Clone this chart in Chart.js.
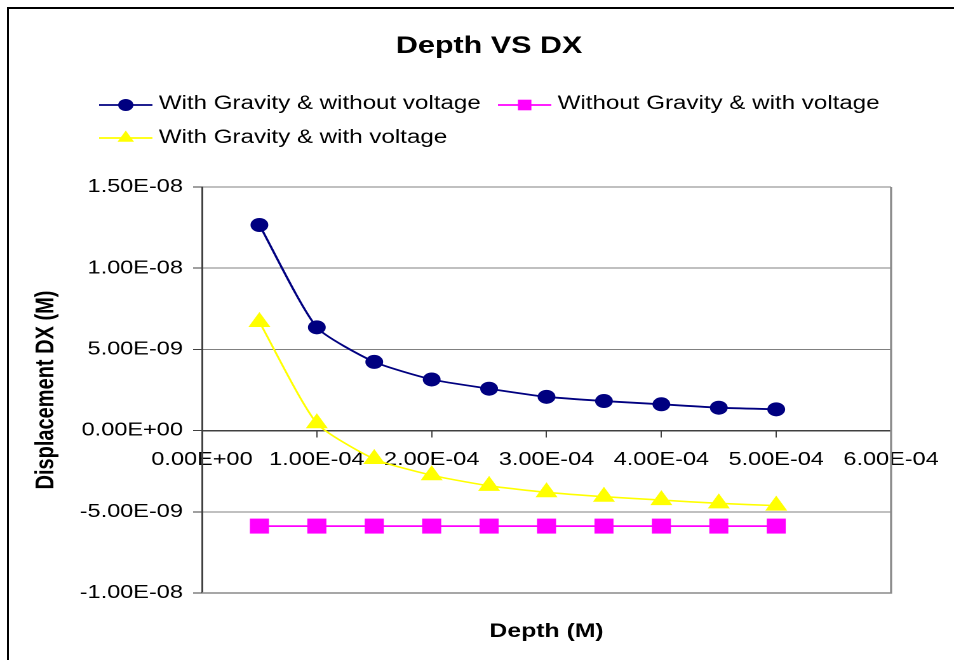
<!DOCTYPE html>
<html>
<head>
<meta charset="utf-8">
<script src="https://cdn.jsdelivr.net/npm/chart.js@4.4.0/dist/chart.umd.min.js"></script>
<style>
  html, body { margin: 0; padding: 0; background: #fff; overflow: hidden; width: 954px; height: 660px; }
  #frame { position: absolute; left: 7px; top: 7px; width: 1000px; height: 700px;
           border-left: 2px solid #000; border-top: 2px solid #000; }
  #wrap { position: absolute; left: 0; top: 0; width: 751px; height: 660px;
          transform: scaleX(1.2703); transform-origin: 0 0; }
</style>
</head>
<body>
<div id="frame"></div>
<div id="wrap"><canvas id="c"></canvas></div>
<script>
// Depth of the gap (M)
const depth = [5e-5, 1e-4, 1.5e-4, 2e-4, 2.5e-4, 3e-4, 3.5e-4, 4e-4, 4.5e-4, 5e-4];

// Displacement DX (M) for each case
const gravityNoVoltage = [12.66e-9, 6.36e-9, 4.23e-9, 3.15e-9, 2.58e-9, 2.08e-9, 1.82e-9, 1.62e-9, 1.41e-9, 1.31e-9];
const noGravityVoltage = [-5.88e-9, -5.88e-9, -5.88e-9, -5.88e-9, -5.88e-9, -5.88e-9, -5.88e-9, -5.88e-9, -5.88e-9, -5.88e-9];
const gravityVoltage   = [6.69e-9, 0.45e-9, -1.75e-9, -2.75e-9, -3.40e-9, -3.80e-9, -4.07e-9, -4.28e-9, -4.48e-9, -4.62e-9];

const seriesNames = [
  'With Gravity & without voltage',
  'Without Gravity & with voltage',
  'With Gravity & with voltage'
];

// Axis tick values
const xTicks = [0, 1e-4, 2e-4, 3e-4, 4e-4, 5e-4, 6e-4];
const yTicks = [-1e-8, -5e-9, 0, 5e-9, 1e-8, 1.5e-8];

const chartTitle = 'Depth VS DX';
const xTitle = 'Depth (M)';
const yTitle = 'Displacement DX (M)';

const FONT = '"Liberation Sans", Arial, sans-serif';
Chart.defaults.font.family = FONT;
Chart.defaults.color = '#000';

// Scientific label, e.g. 1.50E-08
function sci(v) {
  if (Math.abs(v) < 1e-20) v = 0;
  const parts = Number(v).toExponential(2).split('e');
  const n = parseInt(parts[1], 10);
  return parts[0] + 'E' + (n < 0 ? '-' : '+') + String(Math.abs(n)).padStart(2, '0');
}

const pairs = ys => depth.map((x, i) => ({ x: x, y: ys[i] }));

function drawMarker(ctx, style, x, y, r, color) {
  ctx.save();
  ctx.fillStyle = color;
  ctx.beginPath();
  if (style === 'circle') {
    ctx.arc(x, y, r, 0, Math.PI * 2);
  } else if (style === 'rect') {
    const s = r * Math.SQRT1_2;
    ctx.rect(x - s, y - s, 2 * s, 2 * s);
  } else if (style === 'triangle') {
    for (let k = 0; k < 3; k++) {
      const a = k * 2 * Math.PI / 3;
      const px = x + Math.sin(a) * r, py = y - Math.cos(a) * r;
      if (k === 0) ctx.moveTo(px, py); else ctx.lineTo(px, py);
    }
    ctx.closePath();
  }
  ctx.fill();
  ctx.restore();
}

// Title, legend, axis titles and the plot frame
const decor = {
  id: 'decor',
  beforeDatasetsDraw(chart) {
    const { ctx, chartArea: a } = chart;
    ctx.save();
    ctx.strokeStyle = '#8a8a8a';
    ctx.lineWidth = 1.6;
    ctx.beginPath();
    ctx.moveTo(a.right, a.top);
    ctx.lineTo(a.right, a.bottom);
    ctx.lineTo(a.left, a.bottom);
    ctx.stroke();
    ctx.restore();
  },
  afterDraw(chart) {
    const ctx = chart.ctx;
    const a = chart.chartArea;
    ctx.save();
    ctx.fillStyle = '#000';
    ctx.textBaseline = 'alphabetic';

    // chart title
    ctx.font = 'bold 24px ' + FONT;
    ctx.textAlign = 'center';
    ctx.fillText(chartTitle, 385, 53);

    // legend
    const items = [
      { x: 78, y: 105, base: 109 },
      { x: 392, y: 105, base: 109 },
      { x: 78, y: 138, base: 143 }
    ];
    const mr = [6, 7.5, 7.5];
    ctx.font = '19px ' + FONT;
    ctx.textAlign = 'left';
    chart.data.datasets.forEach((ds, i) => {
      const it = items[i];
      ctx.strokeStyle = ds.borderColor;
      ctx.lineWidth = 1.8;
      ctx.beginPath();
      ctx.moveTo(it.x, it.y);
      ctx.lineTo(it.x + 42, it.y);
      ctx.stroke();
      drawMarker(ctx, ds.pointStyle, it.x + 21, it.y, mr[i], ds.pointBackgroundColor);
      ctx.fillStyle = '#000';
      ctx.fillText(ds.label, it.x + 47, it.base);
    });

    // axis titles
    ctx.font = 'bold 19.5px ' + FONT;
    ctx.textAlign = 'center';
    ctx.fillText(xTitle, (a.left + a.right) / 2, 637);

    ctx.save();
    ctx.font = 'bold 20px ' + FONT;
    ctx.translate(42, (a.top + a.bottom) / 2);
    ctx.rotate(-Math.PI / 2);
    ctx.fillText(yTitle, 0, 0);
    ctx.restore();

    ctx.restore();
  }
};

new Chart(document.getElementById('c'), {
  type: 'line',
  data: {
    datasets: [
      {
        label: seriesNames[0],
        data: pairs(gravityNoVoltage),
        borderColor: '#000080',
        backgroundColor: '#000080',
        pointBackgroundColor: '#000080',
        pointBorderColor: '#000080',
        pointStyle: 'circle',
        pointRadius: 7,
        pointBorderWidth: 0,
        borderWidth: 1.8,
        tension: 0.2
      },
      {
        label: seriesNames[1],
        data: pairs(noGravityVoltage),
        borderColor: '#ff00ff',
        backgroundColor: '#ff00ff',
        pointBackgroundColor: '#ff00ff',
        pointBorderColor: '#ff00ff',
        pointStyle: 'rect',
        pointRadius: 10.6,
        pointBorderWidth: 0,
        borderWidth: 1.8,
        tension: 0
      },
      {
        label: seriesNames[2],
        data: pairs(gravityVoltage),
        borderColor: '#ffff00',
        backgroundColor: '#ffff00',
        pointBackgroundColor: '#ffff00',
        pointBorderColor: '#ffff00',
        pointStyle: 'triangle',
        pointRadius: 10,
        pointBorderWidth: 0,
        borderWidth: 1.6,
        tension: 0.2
      }
    ]
  },
  options: {
    responsive: true,
    maintainAspectRatio: false,
    animation: false,
    devicePixelRatio: 2,
    layout: { padding: { left: 0, top: 187, right: 48, bottom: 67 } },
    plugins: {
      legend: { display: false },
      title: { display: false },
      tooltip: { enabled: false }
    },
    scales: {
      x: {
        type: 'linear',
        min: 0,
        max: 6e-4,
        position: { y: 0 },
        afterBuildTicks: s => { s.ticks = xTicks.map(v => ({ value: v })); },
        afterFit: s => { s.height = 0; },
        grid: { drawOnChartArea: false, drawTicks: true, tickLength: 6, tickColor: '#404040', tickWidth: 1 },
        border: { color: '#404040', width: 1.5 },
        ticks: { callback: v => sci(v), padding: 12, color: '#000', font: { size: 18.5 }, maxRotation: 0, minRotation: 0, autoSkip: false }
      },
      y: {
        type: 'linear',
        min: -1e-8,
        max: 1.5e-8,
        position: 'left',
        afterBuildTicks: s => { s.ticks = yTicks.map(v => ({ value: v })); },
        afterFit: s => { s.width = 159; },
        grid: { color: '#808080', lineWidth: 1, drawTicks: true, tickLength: 7, tickColor: '#404040' },
        border: { color: '#404040', width: 1.5 },
        ticks: { callback: v => sci(v), padding: 8, color: '#000', font: { size: 18.5 } }
      }
    }
  },
  plugins: [decor]
});
</script>
</body>
</html>
